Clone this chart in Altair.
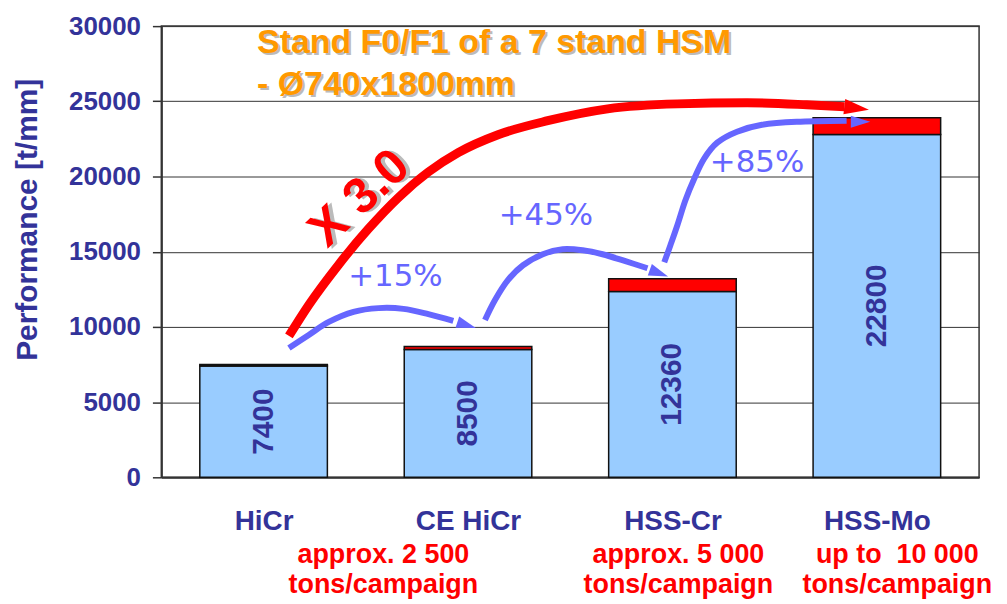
import json
import altair as alt
import pandas as pd

# ---------------- data ----------------
categories = ["HiCr", "CE HiCr", "HSS-Cr", "HSS-Mo"]
positions = [0, 1, 2, 3]
base_values = [7400, 8500, 12360, 22800]
top_values = [7500, 8700, 13200, 23900]
value_labels = ["7400", "8500", "12360", "22800"]

campaign_line1 = ["approx. 2 500", "approx. 5 000", "up to \u00a010 000"]
campaign_line2 = ["tons/campaign", "tons/campaign", "tons/campaign"]
campaign_x = [0.586, 2.029, 3.100]
campaign_y = [-5170, -7150]

# red "x 3.0" arrow (x in category units, y in t/mm)
red_x = [0.124, 0.221, 0.367, 0.513, 0.660, 0.806, 0.952, 1.147, 1.390, 1.683, 2.024, 2.365, 2.657, 2.842]
red_y = [9400, 11460, 14140, 16520, 18610, 20300, 21590, 22780, 23710, 24500, 24830, 24900, 24770, 24640]

# blue arrows
blue1_x = [0.124, 0.221, 0.319, 0.440, 0.562, 0.684, 0.806, 0.928]
blue1_y = [8600, 9470, 10330, 11000, 11250, 11200, 10850, 10400]
blue2_x = [1.083, 1.132, 1.195, 1.269, 1.366, 1.463, 1.561, 1.658, 1.770, 1.878]
blue2_y = [10460, 11790, 13110, 14100, 14830, 15170, 15100, 14830, 14370, 13900]
blue3_x = [1.960, 1.990, 2.024, 2.063, 2.107, 2.155, 2.219, 2.316, 2.438, 2.608, 2.852]
blue3_y = [14300, 15430, 16760, 18410, 19870, 21190, 22250, 22980, 23440, 23640, 23710]

# arrow heads
head_x = [2.901, 0.993, 1.934, 2.920]
head_y = [24540, 10120, 13580, 23640]
head_angle = [7, 18, 20, 0]
head_kind = ["red", "blue", "blue", "blue"]

pct_labels = ["+15%", "+45%", "+85%"]
pct_x = [0.645, 1.381, 2.414]
pct_y = [13300, 17350, 20900]

factor_label = "X 3.0"
factor_x = [0.470]
factor_y = [18540]

title_lines = ["Stand F0/F1 of a 7 stand HSM", "- Ø740x1800mm"]
title_x = [-0.032, -0.032]
title_y = [28850, 26050]

# ---------------- styling ----------------
NAVY = "#333399"
LIGHTBLUE = "#99CCFF"
RED = "#FF0000"
ARROWBLUE = "#6666FF"
ORANGE = "#FF9900"
FONT = "Liberation Sans"
HALF = 0.312

xscale = alt.Scale(domain=[-0.5, 3.5], nice=False, zero=False)
yscale = alt.Scale(domain=[0, 30000], nice=False, zero=True)

x_axis = alt.Axis(
    values=positions,
    labelExpr=json.dumps(categories) + "[datum.value]",
    title=None, grid=False, ticks=False, domain=True,
    domainColor="#333333", domainWidth=2,
    labelFont=FONT, labelFontSize=28, labelFontWeight="bold", labelColor=NAVY,
    labelPadding=30, labelBaseline="top",
)
y_axis = alt.Axis(
    values=[0, 5000, 10000, 15000, 20000, 25000, 30000], format="d",
    title="Performance [t/mm]", grid=True, gridColor="#333333", gridWidth=1,
    ticks=True, tickSize=9, tickColor="#333333", tickWidth=1.5,
    domain=True, domainColor="#333333", domainWidth=2,
    labelFont=FONT, labelFontSize=26, labelFontWeight="bold", labelColor=NAVY,
    labelPadding=12,
    titleFont=FONT, titleFontSize=30, titleFontWeight="bold", titleColor=NAVY,
    titleAngle=270, titleX=-134, titleY=194, titleAlign="center", titleBaseline="middle",
)


def X(field):
    return alt.X(field, type="quantitative", scale=xscale, axis=x_axis)


def Y(field):
    return alt.Y(field, type="quantitative", scale=yscale, axis=y_axis)


bars = pd.DataFrame({
    "cat": categories,
    "pos": positions,
    "x1": [p - HALF for p in positions],
    "x2": [p + HALF for p in positions],
    "base": base_values,
    "top": top_values,
    "zero": [0] * 4,
    "label": value_labels,
    "mid": [v / 2 for v in base_values],
})

blue_bars = alt.Chart(bars).mark_rect(
    fill=LIGHTBLUE, stroke="#111111", strokeWidth=1.5
).encode(x=X("x1"), x2="x2", y=Y("zero"), y2="base")

red_caps = alt.Chart(bars).mark_rect(
    fill=RED, stroke="#111111", strokeWidth=1.5
).encode(x=X("x1"), x2="x2", y=Y("base"), y2="top")

bar_text = alt.Chart(bars).mark_text(
    angle=270, font=FONT, fontSize=30, fontWeight="bold", color=NAVY,
    align="center", baseline="middle",
).encode(x=X("pos"), y=Y("mid"), text="label:N")

red_df = pd.DataFrame({"x": red_x, "y": red_y, "i": range(len(red_x))})
red_line = alt.Chart(red_df).mark_line(
    color=RED, strokeWidth=9, strokeCap="butt", interpolate="monotone"
).encode(x=X("x"), y=Y("y"), order="i:Q")

blue_rows = []
for cid, (xs, ys) in enumerate([(blue1_x, blue1_y), (blue2_x, blue2_y), (blue3_x, blue3_y)]):
    for i, (a, b) in enumerate(zip(xs, ys)):
        blue_rows.append({"curve": cid, "i": i, "x": a, "y": b})
blue_df = pd.DataFrame(blue_rows)
blue_lines = alt.Chart(blue_df).mark_line(
    color=ARROWBLUE, strokeWidth=6, strokeCap="butt", interpolate="cardinal"
).encode(x=X("x"), y=Y("y"), detail="curve:N", order="i:Q")

heads = pd.DataFrame({"x": head_x, "y": head_y, "angle": head_angle, "kind": head_kind})
ARROW = "M -1 -0.62 L 1 0 L -1 0.62 Z"
red_head = alt.Chart(heads[heads.kind == "red"]).mark_point(
    shape=ARROW, filled=True, opacity=1, color=RED, size=620, strokeWidth=0
).encode(x=X("x"), y=Y("y"), angle=alt.Angle("angle:Q", scale=None))
blue_head = alt.Chart(heads[heads.kind == "blue"]).mark_point(
    shape=ARROW, filled=True, opacity=1, color=ARROWBLUE, size=380, strokeWidth=0
).encode(x=X("x"), y=Y("y"), angle=alt.Angle("angle:Q", scale=None))

pct_df = pd.DataFrame({"x": pct_x, "y": pct_y, "t": pct_labels})
pct_text = alt.Chart(pct_df).mark_text(
    font="DejaVu Sans", fontSize=31, color=ARROWBLUE, align="center", baseline="middle"
).encode(x=X("x"), y=Y("y"), text="t:N")

fac_df = pd.DataFrame({"x": factor_x, "y": factor_y, "t": [factor_label]})
fac_shadow = alt.Chart(fac_df).mark_text(
    font=FONT, fontSize=50, fontWeight="bold", color="#BBBBBB", angle=317,
    align="center", baseline="middle", dx=3, dy=3,
).encode(x=X("x"), y=Y("y"), text="t:N")
fac_text = alt.Chart(fac_df).mark_text(
    font=FONT, fontSize=50, fontWeight="bold", color=RED, angle=317,
    align="center", baseline="middle",
).encode(x=X("x"), y=Y("y"), text="t:N")

title_df = pd.DataFrame({"x": title_x, "y": title_y, "t": title_lines})
title_shadow = alt.Chart(title_df).mark_text(
    font=FONT, fontSize=34, fontWeight="bold", color="#BBBBBB",
    align="left", baseline="middle", dx=2, dy=2,
).encode(x=X("x"), y=Y("y"), text="t:N")
title_text = alt.Chart(title_df).mark_text(
    font=FONT, fontSize=34, fontWeight="bold", color=ORANGE,
    align="left", baseline="middle",
).encode(x=X("x"), y=Y("y"), text="t:N")

camp_rows = []
for xx, l1, l2 in zip(campaign_x, campaign_line1, campaign_line2):
    camp_rows.append({"x": xx, "y": campaign_y[0], "t": l1})
    camp_rows.append({"x": xx, "y": campaign_y[1], "t": l2})
camp_df = pd.DataFrame(camp_rows)
camp_text = alt.Chart(camp_df).mark_text(
    font=FONT, fontSize=27, fontWeight="bold", color=RED,
    align="center", baseline="middle",
).encode(x=X("x"), y=Y("y"), text="t:N")

chart = alt.layer(
    blue_bars, red_caps, bar_text,
    red_line, red_head, blue_lines, blue_head,
    pct_text, fac_shadow, fac_text,
    title_shadow, title_text, camp_text,
).properties(
    width=821, height=453,
    padding={"left": 154, "top": 17, "right": 20, "bottom": 122},
    autosize=alt.AutoSizeParams(type="none"),
    background="white",
).configure_view(stroke="#333333", strokeWidth=1.5)

chart.save("out.html", embed_options={"renderer": "svg", "actions": False})
